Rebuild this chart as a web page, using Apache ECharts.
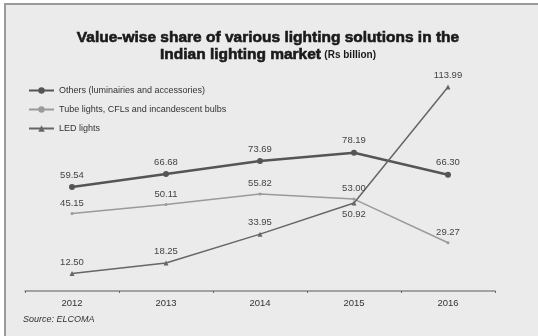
<!DOCTYPE html>
<html><head><meta charset="utf-8">
<script src="https://cdn.jsdelivr.net/npm/echarts@6/dist/echarts.min.js"></script>
<style>html,body{margin:0;padding:0;background:#fff}#c{width:538px;height:336px}</style>
</head><body><div id="c"></div>
<script>
const years = ['2012','2013','2014','2015','2016'];
const others = [59.54, 66.68, 73.69, 78.19, 66.30];
const tubes = [45.15, 50.11, 55.82, 53.00, 29.27];
const led = [12.50, 18.25, 33.95, 50.92, 113.99];
const seriesNames = ['Others (luminairies and accessories)', 'Tube lights, CFLs and incandescent bulbs', 'LED lights'];
const titleLine1 = 'Value-wise share of various lighting solutions in the';
const titleLine2 = 'Indian lighting market';
const titleUnit = '(Rs billion)';

const fam = "'Liberation Sans',Arial,sans-serif";
const chart = echarts.init(document.getElementById('c'), null, {renderer:'canvas'});
function lbl(pos){return {show:true,position:pos||'top',distance:4,fontSize:9.5,color:'#444',fontFamily:fam,formatter:p=>p.value.toFixed(2)};}
chart.setOption({
  backgroundColor:'#fff',
  animation:false,
  graphic:[
    {type:'rect',shape:{x:5,y:4,width:540,height:340},style:{fill:'#ebebeb',stroke:'#9a9a9a',lineWidth:2},z:-10},
    {type:'text',x:268,y:38,style:{text:titleLine1,fontSize:15.5,fontWeight:'bold',fill:'#1a1a1a',stroke:'#1a1a1a',lineWidth:0.6,fontFamily:fam,align:'center',verticalAlign:'middle'}},
    {type:'text',x:268,y:55,style:{text:'{a|'+titleLine2+'} {b|'+titleUnit+'}',align:'center',verticalAlign:'middle',
      rich:{a:{fontSize:15.5,fontWeight:'bold',fill:'#1a1a1a',stroke:'#1a1a1a',lineWidth:0.6,fontFamily:fam},b:{fontSize:10,fontWeight:'bold',fill:'#1a1a1a',fontFamily:fam}}}},
    {type:'text',left:23,top:315,style:{text:'Source: ELCOMA',fontSize:9,fontStyle:'italic',fill:'#333',fontFamily:fam}}
  ],
  legend:{
    orient:'vertical', left:28, top:86, padding:0, itemGap:10, itemWidth:25, itemHeight:8,
    textStyle:{fontSize:9,color:'#333',fontFamily:fam},
    data:seriesNames
  },
  grid:{left:25,right:43,top:76,bottom:45,containLabel:false},
  xAxis:{type:'category',data:years,boundaryGap:true,
    axisLine:{lineStyle:{color:'#8a8a8a',width:1.5}},
    axisTick:{show:true,length:2,lineStyle:{color:'#666'}},
    axisLabel:{fontSize:9.5,color:'#333',fontFamily:fam,margin:7}},
  yAxis:{type:'value',min:3,max:120,show:false,splitLine:{show:false}},
  series:[
    {name:seriesNames[0],type:'line',data:others,symbol:'circle',symbolSize:6,
     lineStyle:{color:'#555',width:2.5},itemStyle:{color:'#555'},label:lbl('top')},
    {name:seriesNames[1],type:'line',data:tubes,symbol:'circle',symbolSize:3,
     lineStyle:{color:'#9a9a9a',width:1.5},itemStyle:{color:'#9a9a9a'},label:lbl('top')},
    {name:seriesNames[2],type:'line',data:led.map((v,i)=>i===3?{value:v,label:{position:'bottom'}}:v),symbol:'triangle',symbolSize:5,
     lineStyle:{color:'#666',width:1.5},itemStyle:{color:'#666'},label:lbl('top')}
  ]
});
</script></body></html>
